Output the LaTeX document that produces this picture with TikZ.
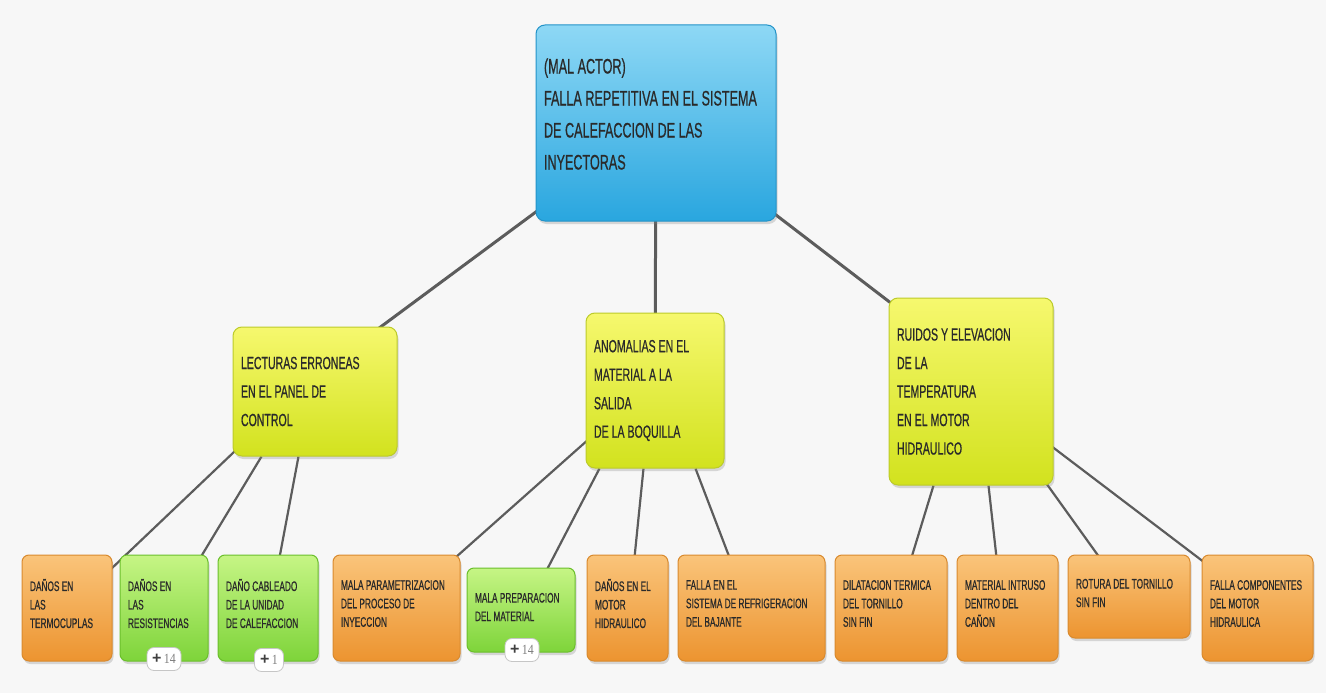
\documentclass[tikz,border=0pt]{standalone}
\usepackage{fontspec}
\newfontfamily\cf[FakeStretch=0.6, FakeBold=0.6]{Liberation Sans}
\newfontfamily\cfnum[FakeStretch=0.85]{Liberation Serif}
\usetikzlibrary{calc,shadows,backgrounds}

\definecolor{bgpaper}{HTML}{F7F7F7}
\definecolor{blueTop}{HTML}{8ED8F5}
\definecolor{blueBot}{HTML}{29A6DF}
\definecolor{blueEdge}{HTML}{2393C8}
\definecolor{yelTop}{HTML}{F6F86E}
\definecolor{yelBot}{HTML}{D2E21E}
\definecolor{yelEdge}{HTML}{BCCB2A}
\definecolor{orTop}{HTML}{FAC47A}
\definecolor{orBot}{HTML}{EC9430}
\definecolor{orEdge}{HTML}{D98A2E}
\definecolor{grTop}{HTML}{C6F585}
\definecolor{grBot}{HTML}{7ED43A}
\definecolor{grEdge}{HTML}{6BBF2C}
\definecolor{linkgray}{HTML}{5C5C5C}
\definecolor{inkdark}{HTML}{2A2A2A}

% condensed label face
\newcommand{\labelface}[2]{\cf\fontsize{#1}{#2}\selectfont}

\tikzset{
  box/.style={rectangle, rounded corners=9pt, draw, line width=1pt,
    inner xsep=8pt, inner ysep=0pt, align=left, text=inkdark,
    execute at begin node={\spaceskip=0.17em plus 0.05em\relax\xspaceskip=\spaceskip},
    drop shadow={opacity=0.28, shadow xshift=1.5pt, shadow yshift=-3pt}},
  rootbox/.style={box, top color=blueTop, bottom color=blueBot, draw=blueEdge,
    font=\labelface{21}{32}},
  midbox/.style={box, top color=yelTop, bottom color=yelBot, draw=yelEdge,
    font=\labelface{17.6}{28.5}},
  leafo/.style={box, rounded corners=7pt, top color=orTop, bottom color=orBot,
    draw=orEdge, font=\labelface{13.8}{18.5}},
  leafg/.style={leafo, top color=grTop, bottom color=grBot, draw=grEdge},
  badge/.style={rectangle, rounded corners=7pt, fill=white, draw=gray!45,
    line width=0.8pt, minimum width=34pt, minimum height=23pt, inner sep=0pt,
    text=gray, font=\cfnum\fontsize{14}{14}\selectfont},
  biglink/.style={draw=linkgray, line width=3pt},
  link/.style={draw=linkgray, line width=2.2pt},
}

\newcommand{\plusmark}{{\fontspec{Liberation Sans}\bfseries\fontsize{16}{16}\selectfont\color{darkgray}+}}
\newcommand{\lift}[1]{\par\vspace*{#1}}

\begin{document}
\begin{tikzpicture}[x=1pt, y=-1pt]
\useasboundingbox (0,0) rectangle (1326,693);

% root
\node[rootbox, text width=224pt, minimum height=196pt] (root) at (656,123)
  {(MAL ACTOR)\\FALLA REPETITIVA EN EL SISTEMA\\DE CALEFACCION DE LAS\\INYECTORAS\lift{18pt}};

% second level
\node[midbox, text width=148pt, minimum height=129pt] (lect) at (315,391.5)
  {LECTURAS ERRONEAS\\EN EL PANEL DE\\CONTROL};
\node[midbox, text width=122pt, minimum height=155pt] (anom) at (655,390.5)
  {ANOMALIAS EN EL\\MATERIAL A LA\\SALIDA\\DE LA BOQUILLA};
\node[midbox, text width=148pt, minimum height=187pt] (ruid) at (971,391.5)
  {RUIDOS Y ELEVACION\\DE LA\\TEMPERATURA\\EN EL MOTOR\\HIDRAULICO};

% third level
\node[leafo, text width=74pt, minimum height=106pt] (b1) at (67,608)
  {DAÑOS EN\\LAS\\TERMOCUPLAS\lift{9pt}};
\node[leafg, text width=72pt, minimum height=106pt] (b2) at (164,608)
  {DAÑOS EN\\LAS\\RESISTENCIAS\lift{9pt}};
\node[leafg, text width=84pt, minimum height=106pt] (b3) at (268,608)
  {DAÑO CABLEADO\\DE LA UNIDAD\\DE CALEFACCION\lift{9pt}};
\node[leafo, text width=111pt, minimum height=106pt] (b4) at (396.5,608)
  {MALA PARAMETRIZACION\\DEL PROCESO DE\\INYECCION\lift{9pt}};
\node[leafg, text width=92pt, minimum height=84pt] (b5) at (521,610)
  {MALA PREPARACION\\DEL MATERIAL\lift{6pt}};
\node[leafo, text width=65pt, minimum height=106pt] (b6) at (627.5,608)
  {DAÑOS EN EL\\MOTOR\\HIDRAULICO\lift{9pt}};
\node[leafo, text width=131pt, minimum height=106pt] (b7) at (751.5,608)
  {FALLA EN EL\\SISTEMA DE REFRIGERACION\\DEL BAJANTE\lift{9pt}};
\node[leafo, text width=96pt, minimum height=106pt] (b8) at (891,608)
  {DILATACION TERMICA\\DEL TORNILLO\\SIN FIN\lift{9pt}};
\node[leafo, text width=85pt, minimum height=106pt] (b9) at (1007.5,608)
  {MATERIAL INTRUSO\\DENTRO DEL\\CAÑON\lift{9pt}};
\node[leafo, text width=106pt, minimum height=83pt] (b10) at (1129,596.5)
  {ROTURA DEL TORNILLO\\SIN FIN\lift{7pt}};
\node[leafo, text width=95pt, minimum height=106pt] (b11) at (1257.5,608)
  {FALLA COMPONENTES\\DEL MOTOR\\HIDRAULICA\lift{9pt}};

% collapsed-branch counters
\node[badge] (k2) at (164,659) {\plusmark\,14};
\node[badge, minimum width=29pt] (k3) at (269,660) {\plusmark\,1};
\node[badge] (k5) at (522,650) {\plusmark\,14};

% connectors, drawn behind the boxes
\begin{scope}[on background layer]
  \fill[bgpaper] (0,0) rectangle (1326,693);
  \draw[biglink] (root.center) -- ($(lect.north east)+(-19,2)$);
  \draw[biglink] (root.center) -- (anom.center);
  \draw[biglink] (root.center) -- ($(ruid.north west)+(3,6)$);

  \draw[link] ($(lect.south west)+(2,-5)$) -- ($(b1.north east)+(-2,15)$);
  \draw[link] ($(lect.south west)+(29,0)$) -- ($(b2.north east)+(-8,3)$);
  \draw[link] ($(lect.south west)+(66,0)$) -- ($(b3.north west)+(62,3)$);

  \draw[link] ($(anom.south west)+(4,-30)$) -- ($(b4.north east)+(-5,3)$);
  \draw[link] ($(anom.south west)+(14,0)$) -- ($(b5.north west)+(80,3)$);
  \draw[link] ($(anom.south west)+(58,0)$) -- ($(b6.north west)+(48,3)$);
  \draw[link] ($(anom.south west)+(110,0)$) -- ($(b7.north west)+(52,3)$);

  \draw[link] ($(ruid.south west)+(45,0)$) -- ($(b8.north west)+(77,3)$);
  \draw[link] ($(ruid.south west)+(100,0)$) -- ($(b9.north west)+(40,3)$);
  \draw[link] ($(ruid.south east)+(-10,-6)$) -- ($(b10.north west)+(32,3)$);
  \draw[link] ($(ruid.south east)+(-3,-40)$) -- ($(b11.north west)+(3,8)$);
\end{scope}
\end{tikzpicture}
\end{document}
